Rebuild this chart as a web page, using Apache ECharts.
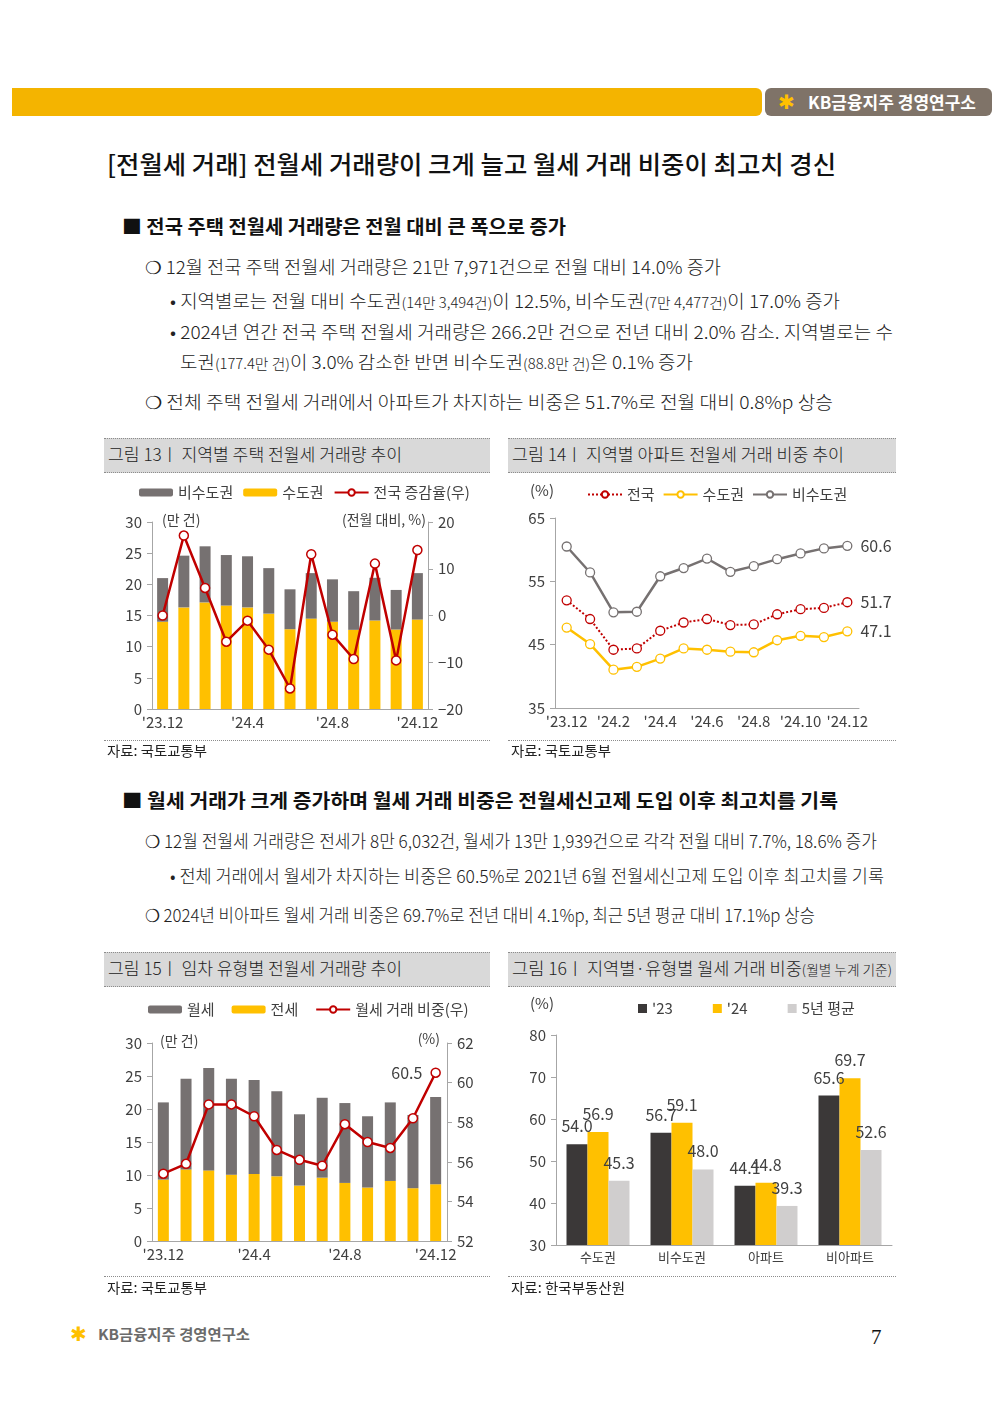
<!DOCTYPE html>
<html>
<head>
<meta charset="utf-8">
<script src="https://cdn.jsdelivr.net/npm/echarts@6/dist/echarts.min.js"></script>
<style>
body { margin: 0; background: #fff; }
#page { position: relative; width: 1000px; height: 1414px; overflow: hidden; font-family: "Noto Sans CJK KR", "Noto Sans", sans-serif; color: #222; }
.t { position: absolute; white-space: nowrap; transform-origin: 0 50%; height: 30px; line-height: 30px; }
.lt { font-weight: 300; }
.sm { font-size: 0.78em; }
.fh { position: absolute; background: #d9d9d9; border-top: 1px dotted #8c8c8c; border-bottom: 1px dotted #8c8c8c; height: 33px; }
.dl { position: absolute; border-top: 1px dotted #8c8c8c; height: 0; }
.chart { position: absolute; }
</style>
</head>
<body>
<div id="page">
  <!-- header bar -->
  <div style="position:absolute;left:12px;top:88px;width:750px;height:28px;background:#F4B400;border-radius:0 6px 6px 0;"></div>
  <div style="position:absolute;left:765px;top:88px;width:227px;height:28px;background:#7f7368;border-radius:6px;"></div>
  <div class="t" style="left:778px;top:87px;color:#FFC000;font-size:20px;font-family:'DejaVu Sans';">✱</div>
  <div class="t fit" data-w="168" style="left:808px;top:87px;color:#fff;font-size:17px;font-weight:bold;">KB금융지주 경영연구소</div>

  <div class="t fit" data-w="729" style="left:107px;top:148px;font-size:25px;font-weight:500;color:#111;">[전월세 거래] 전월세 거래량이 크게 늘고 월세 거래 비중이 최고치 경신</div>

  <div class="t fit" data-w="444" style="left:122px;top:211px;font-size:19px;font-weight:bold;color:#111;">■ 전국 주택 전월세 거래량은 전월 대비 큰 폭으로 증가</div>
  <div class="t fit lt" data-w="576" style="left:145px;top:251px;font-size:18px;">❍ 12월 전국 주택 전월세 거래량은 21만 7,971건으로 전월 대비 14.0% 증가</div>
  <div class="t fit lt" data-w="670" style="left:170px;top:285px;font-size:18px;">• 지역별로는 전월 대비 수도권<span class="sm">(14만 3,494건)</span>이 12.5%, 비수도권<span class="sm">(7만 4,477건)</span>이 17.0% 증가</div>
  <div class="t fit lt" data-w="723" style="left:170px;top:316px;font-size:18px;">• 2024년 연간 전국 주택 전월세 거래량은 266.2만 건으로 전년 대비 2.0% 감소. 지역별로는 수</div>
  <div class="t fit lt" data-w="513" style="left:180px;top:346px;font-size:18px;">도권<span class="sm">(177.4만 건)</span>이 3.0% 감소한 반면 비수도권<span class="sm">(88.8만 건)</span>은 0.1% 증가</div>
  <div class="t fit lt" data-w="688" style="left:145px;top:386px;font-size:18px;">❍ 전체 주택 전월세 거래에서 아파트가 차지하는 비중은 51.7%로 전월 대비 0.8%p 상승</div>

  <div class="fh" style="left:104px;top:438px;width:386px;"></div>
  <div class="fh" style="left:508px;top:438px;width:388px;"></div>
  <div class="t fit lt" data-w="294" style="left:108px;top:439px;font-size:17px;">그림 13ㅣ 지역별 주택 전월세 거래량 추이</div>
  <div class="t fit lt" data-w="332" style="left:512px;top:439px;font-size:17px;">그림 14ㅣ 지역별 아파트 전월세 거래 비중 추이</div>

  <div id="c13" class="chart" style="left:104px;top:472px;width:386px;height:266px;"></div>
  <div id="c14" class="chart" style="left:508px;top:472px;width:388px;height:266px;"></div>

  <div class="dl" style="left:104px;top:740px;width:386px;"></div>
  <div class="dl" style="left:508px;top:740px;width:388px;"></div>
  <div class="t fit" data-w="100" style="left:107px;top:735px;font-size:14px;">자료: 국토교통부</div>
  <div class="t fit" data-w="100" style="left:511px;top:735px;font-size:14px;">자료: 국토교통부</div>

  <div class="t fit" data-w="716" style="left:122px;top:785px;font-size:19px;font-weight:bold;color:#111;">■ 월세 거래가 크게 증가하며 월세 거래 비중은 전월세신고제 도입 이후 최고치를 기록</div>
  <div class="t fit lt" data-w="732" style="left:145px;top:825px;font-size:18px;">❍ 12월 전월세 거래량은 전세가 8만 6,032건, 월세가 13만 1,939건으로 각각 전월 대비 7.7%, 18.6% 증가</div>
  <div class="t fit lt" data-w="714" style="left:170px;top:860px;font-size:18px;">• 전체 거래에서 월세가 차지하는 비중은 60.5%로 2021년 6월 전월세신고제 도입 이후 최고치를 기록</div>
  <div class="t fit lt" data-w="670" style="left:145px;top:899px;font-size:18px;">❍ 2024년 비아파트 월세 거래 비중은 69.7%로 전년 대비 4.1%p, 최근 5년 평균 대비 17.1%p 상승</div>

  <div class="fh" style="left:104px;top:952px;width:386px;"></div>
  <div class="fh" style="left:508px;top:952px;width:388px;"></div>
  <div class="t fit lt" data-w="294" style="left:108px;top:953px;font-size:17px;">그림 15ㅣ 임차 유형별 전월세 거래량 추이</div>
  <div class="t fit lt" data-w="380" style="left:512px;top:953px;font-size:17px;">그림 16ㅣ 지역별·유형별 월세 거래 비중<span class="sm">(월별 누계 기준)</span></div>

  <div id="c15" class="chart" style="left:104px;top:986px;width:386px;height:290px;"></div>
  <div id="c16" class="chart" style="left:508px;top:986px;width:388px;height:290px;"></div>

  <div class="dl" style="left:104px;top:1276px;width:386px;"></div>
  <div class="dl" style="left:508px;top:1276px;width:388px;"></div>
  <div class="t fit" data-w="100" style="left:107px;top:1272px;font-size:14px;">자료: 국토교통부</div>
  <div class="t fit" data-w="114" style="left:511px;top:1272px;font-size:14px;">자료: 한국부동산원</div>

  <!-- footer -->
  <div class="t" style="left:70px;top:1319px;color:#FFC000;font-size:20px;font-family:'DejaVu Sans';">✱</div>
  <div class="t fit" data-w="152" style="left:98px;top:1319px;color:#6b6b6b;font-size:15px;font-weight:bold;">KB금융지주 경영연구소</div>
  <div class="t" style="left:871px;top:1322px;font-size:21px;font-family:'Liberation Serif';color:#111;">7</div>
</div>

<script>
// 공통 월 구분
const months = ["'23.12", "'24.1", "'24.2", "'24.3", "'24.4", "'24.5", "'24.6", "'24.7", "'24.8", "'24.9", "'24.10", "'24.11", "'24.12"];

// 그림 13 지역별 주택 전월세 거래량 (만 건), 전월 대비 증감율 (%)
const cap13 = [14.0, 16.3, 17.1, 16.6, 16.3, 15.3, 12.8, 14.5, 14.0, 12.7, 14.2, 12.75, 14.35];
const nonCap13 = [7.0, 8.3, 9.0, 8.1, 8.2, 7.3, 6.4, 7.3, 6.8, 6.2, 6.85, 6.35, 7.45];
const chg13 = [0.0, 17.1, 5.9, -5.6, -1.1, -7.3, -15.6, 13.1, -4.1, -9.3, 11.1, -9.6, 14.0];

// 그림 14 지역별 아파트 전월세 거래 비중 (%)
const nat14 = [52.0, 49.05, 44.2, 44.4, 47.2, 48.5, 49.05, 48.1, 48.2, 49.8, 50.6, 50.8, 51.7];
const cap14 = [47.7, 45.1, 41.05, 41.5, 42.8, 44.4, 44.2, 43.9, 43.8, 45.7, 46.4, 46.2, 47.1];
const nonCap14 = [60.5, 56.4, 50.1, 50.2, 55.8, 57.1, 58.6, 56.5, 57.4, 58.5, 59.4, 60.2, 60.6];

// 그림 15 임차 유형별 전월세 거래량 (만 건), 월세 비중 (%)
const jeonse15 = [9.3, 10.85, 10.7, 10.05, 10.15, 9.8, 8.4, 9.6, 8.8, 8.1, 9.1, 8.0, 8.6];
const wolse15 = [11.7, 13.75, 15.5, 14.55, 14.25, 12.9, 10.8, 12.1, 12.1, 10.8, 11.9, 11.1, 13.2];
const share15 = [55.4, 55.9, 58.9, 58.9, 58.3, 56.6, 56.1, 55.8, 57.9, 57.0, 56.7, 58.2, 60.5];

// 그림 16 지역별·유형별 월세 거래 비중 (%)
const regions16 = ['수도권', '비수도권', '아파트', '비아파트'];
const y23 = [54.0, 56.7, 44.1, 65.6];
const y24 = [56.9, 59.1, 44.8, 69.7];
const avg5 = [45.3, 48.0, 39.3, 52.6];

// 본문 텍스트 폭 맞춤
document.querySelectorAll('.fit').forEach(function (el) {
  const w = +el.dataset.w;
  const cur = el.getBoundingClientRect().width;
  if (cur > 0) el.style.transform = 'scaleX(' + (w / cur) + ')';
});

const FONT = { fontFamily: 'Noto Sans CJK KR' };
const TXT = '#404040';
const AX = '#a6a6a6';
const GOLD = '#FFC000';
const GRAY = '#767171';
const RED = '#C00000';
const FS = 15;
const minus = function (v) { return String(v).replace('-', '−'); };

function yAx(o) {
  return Object.assign({
    type: 'value',
    axisLine: { show: true, lineStyle: { color: AX } },
    axisTick: { show: true, length: 5, lineStyle: { color: AX } },
    splitLine: { show: false },
    axisLabel: { color: TXT, fontSize: FS, margin: 10 }
  }, o);
}
function xAx(data, labelInt, tickInt) {
  return {
    type: 'category', data: data,
    axisLine: { lineStyle: { color: AX } },
    axisTick: { interval: tickInt, length: 5, lineStyle: { color: AX } },
    axisLabel: { interval: labelInt, color: TXT, fontSize: FS, margin: 6 }
  };
}

// 그림 13
let chart13 = echarts.init(document.getElementById('c13'));
chart13.setOption({
  animation: false,
  textStyle: FONT,
  legend: {
    left: 30, top: 8, itemWidth: 34, itemHeight: 8, itemGap: 10,
    textStyle: { fontSize: FS, color: TXT },
    data: ['비수도권', '수도권', '전국 증감율(우)']
  },
  grid: { left: 48, right: 62, top: 50, bottom: 29 },
  xAxis: xAx(months, 3, 0),
  yAxis: [
    yAx({ min: 0, max: 30, interval: 5 }),
    yAx({ min: -20, max: 20, interval: 10, position: 'right', axisLabel: { color: TXT, fontSize: FS, margin: 10, formatter: minus } })
  ],
  graphic: [
    { type: 'text', left: 58, top: 41, style: { text: '(만 건)', fontSize: 14, fill: TXT, fontFamily: 'Noto Sans CJK KR' } },
    { type: 'text', right: 64, top: 41, style: { text: '(전월 대비, %)', fontSize: 14, fill: TXT, fontFamily: 'Noto Sans CJK KR' } }
  ],
  series: [
    { name: '수도권', type: 'bar', stack: 'a', barWidth: 11, data: cap13, itemStyle: { color: GOLD } },
    { name: '비수도권', type: 'bar', stack: 'a', data: nonCap13, itemStyle: { color: GRAY } },
    {
      name: '전국 증감율(우)', type: 'line', yAxisIndex: 1, data: chg13,
      symbol: 'circle', symbolSize: 9,
      lineStyle: { color: RED, width: 2.5 },
      itemStyle: { color: '#fff', borderColor: RED, borderWidth: 1.5 }
    }
  ]
});

// 그림 14
let chart14 = echarts.init(document.getElementById('c14'));
const endLabel = function (p) { return p.dataIndex === months.length - 1 ? p.value.toFixed(1) : ''; };
function line14(name, data, color, type, width) {
  return {
    name: name, type: 'line', data: data,
    symbol: 'circle', symbolSize: 9,
    lineStyle: { color: color, width: width, type: type },
    itemStyle: { color: '#fff', borderColor: color, borderWidth: 1.3 },
    label: { show: true, position: 'right', distance: 8, formatter: endLabel, color: TXT, fontSize: 16 }
  };
}
chart14.setOption({
  animation: false,
  textStyle: FONT,
  legend: {
    left: 74, top: 10, itemWidth: 34, itemHeight: 8, itemGap: 8,
    textStyle: { fontSize: FS, color: TXT },
    data: ['전국', '수도권', '비수도권']
  },
  grid: { left: 47, right: 37, top: 46, bottom: 30 },
  xAxis: xAx(months, 1, 1),
  yAxis: yAx({ min: 35, max: 65, interval: 10 }),
  graphic: [
    { type: 'text', left: 22, top: 11, style: { text: '(%)', fontSize: 15, fill: TXT, fontFamily: 'Noto Sans CJK KR' } }
  ],
  series: [
    line14('전국', nat14, RED, 'dotted', 2),
    line14('수도권', cap14, GOLD, 'solid', 2.5),
    line14('비수도권', nonCap14, GRAY, 'solid', 2.5)
  ]
});

// 그림 15
let chart15 = echarts.init(document.getElementById('c15'));
chart15.setOption({
  animation: false,
  textStyle: FONT,
  legend: {
    left: 39, top: 11, itemWidth: 34, itemHeight: 8, itemGap: 17,
    textStyle: { fontSize: FS, color: TXT },
    data: ['월세', '전세', '월세 거래 비중(우)']
  },
  grid: { left: 48, right: 43, top: 57, bottom: 35 },
  xAxis: xAx(months, 3, 0),
  yAxis: [
    yAx({ min: 0, max: 30, interval: 5 }),
    yAx({ min: 52, max: 62, interval: 2, position: 'right' })
  ],
  graphic: [
    { type: 'text', left: 56, top: 48, style: { text: '(만 건)', fontSize: 14, fill: TXT, fontFamily: 'Noto Sans CJK KR' } },
    { type: 'text', right: 50, top: 46, style: { text: '(%)', fontSize: 14, fill: TXT, fontFamily: 'Noto Sans CJK KR' } }
  ],
  series: [
    { name: '전세', type: 'bar', stack: 'a', barWidth: 11, data: jeonse15, itemStyle: { color: GOLD } },
    { name: '월세', type: 'bar', stack: 'a', data: wolse15, itemStyle: { color: GRAY } },
    {
      name: '월세 거래 비중(우)', type: 'line', yAxisIndex: 1, data: share15,
      symbol: 'circle', symbolSize: 9,
      lineStyle: { color: RED, width: 2.5 },
      itemStyle: { color: '#fff', borderColor: RED, borderWidth: 1.5 },
      label: { show: true, position: 'left', distance: 8, color: TXT, fontSize: 16, formatter: endLabel }
    }
  ]
});

// 그림 16
let chart16 = echarts.init(document.getElementById('c16'));
function bar16(name, data, color) {
  return {
    name: name, type: 'bar', data: data, barWidth: 21, barGap: '0%',
    itemStyle: { color: color },
    label: { show: true, position: 'top', distance: 10, color: TXT, fontSize: 16, formatter: function (p) { return p.value.toFixed(1); } }
  };
}
chart16.setOption({
  animation: false,
  textStyle: FONT,
  legend: {
    left: 125, top: 10, itemWidth: 9, itemHeight: 9, itemGap: 40,
    icon: 'rect',
    textStyle: { fontSize: FS, color: TXT },
    data: ["'23", "'24", '5년 평균']
  },
  grid: { left: 48, right: 4, top: 49, bottom: 31 },
  xAxis: {
    type: 'category', data: regions16,
    axisLine: { lineStyle: { color: AX } },
    axisTick: { length: 5, lineStyle: { color: AX } },
    axisLabel: { color: TXT, fontSize: 13, margin: 6 }
  },
  yAxis: yAx({ min: 30, max: 80, interval: 10 }),
  graphic: [
    { type: 'text', left: 22, top: 10, style: { text: '(%)', fontSize: 15, fill: TXT, fontFamily: 'Noto Sans CJK KR' } }
  ],
  series: [
    bar16("'23", y23, '#3B3838'),
    bar16("'24", y24, GOLD),
    bar16('5년 평균', avg5, '#D0CECE')
  ]
});
</script>
</body>
</html>
